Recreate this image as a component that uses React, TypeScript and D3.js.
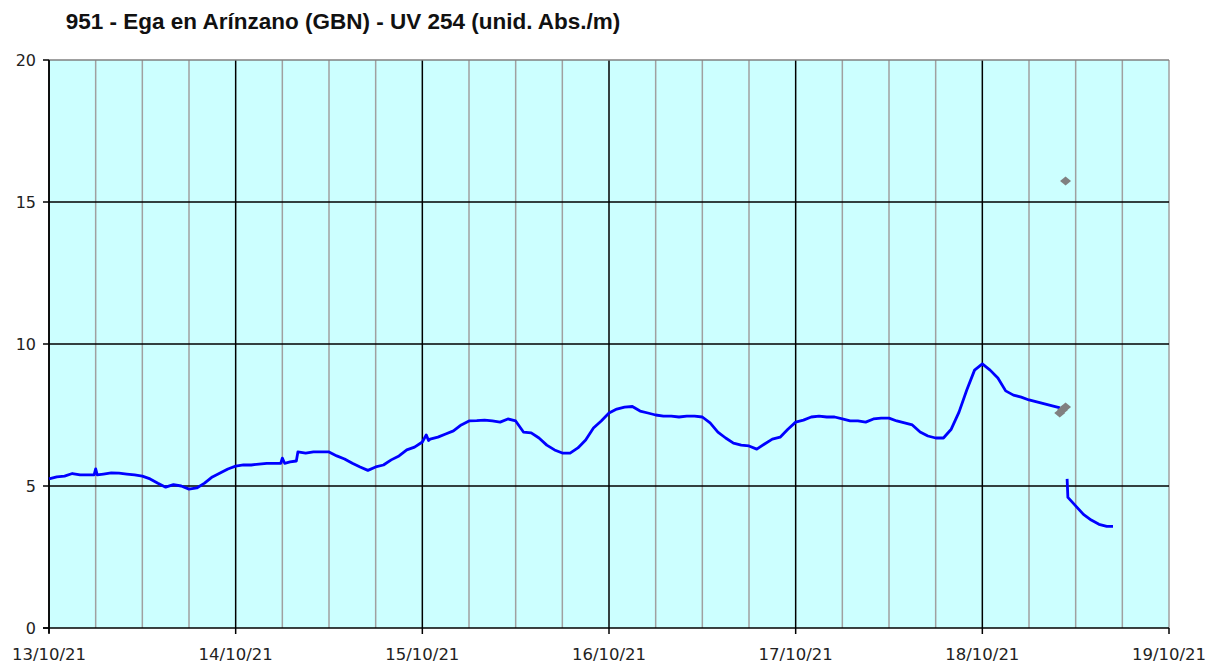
import { scaleLinear, line, range } from "d3";

// hours since 13/10/21 00:00 -> UV 254 (unid. Abs./m)
const readingsBeforeGap: [number, number][] = [
  [0, 5.25], [1, 5.32], [2, 5.35], [3, 5.44], [4, 5.39], [5, 5.39], [5.8, 5.39], [6, 5.6], [6.2, 5.39],
  [7, 5.42], [8, 5.46], [9, 5.45], [10, 5.42], [11, 5.39], [12, 5.35], [13, 5.25], [14, 5.1],
  [15, 4.96], [16, 5.05], [17, 5.0], [18, 4.89], [19, 4.93], [20, 5.1], [21, 5.32], [22, 5.46],
  [23, 5.6], [24, 5.7], [25, 5.74], [26, 5.74], [27, 5.77], [28, 5.8], [29, 5.8], [29.8, 5.8], [30, 5.98],
  [30.3, 5.8], [31, 5.85], [31.8, 5.88], [32, 6.2], [33, 6.16], [34, 6.2], [35, 6.2], [36, 6.2], [37, 6.06],
  [38, 5.95], [39, 5.8], [40, 5.67], [41, 5.55], [42, 5.67], [43, 5.74], [44, 5.92], [45, 6.06],
  [46, 6.27], [47, 6.37], [48, 6.55], [48.5, 6.8], [48.8, 6.6], [49, 6.65], [50, 6.72], [51, 6.83], [52, 6.94],
  [53, 7.15], [54, 7.29], [55, 7.3], [56, 7.32], [57, 7.29], [58, 7.25], [59, 7.36], [60, 7.29],
  [61, 6.9], [62, 6.87], [63, 6.69], [64, 6.44], [65, 6.27], [66, 6.16], [67, 6.16], [68, 6.34],
  [69, 6.62], [70, 7.04], [71, 7.29], [72, 7.57], [73, 7.71], [74, 7.78], [75, 7.8], [76, 7.64],
  [77, 7.57], [78, 7.5], [79, 7.46], [80, 7.46], [81, 7.43], [82, 7.46], [83, 7.46], [84, 7.43],
  [85, 7.22], [86, 6.9], [87, 6.69], [88, 6.51], [89, 6.44], [90, 6.41], [91, 6.3], [92, 6.48],
  [93, 6.65], [94, 6.72], [95, 7.0], [96, 7.25], [97, 7.32], [98, 7.43], [99, 7.46], [100, 7.43],
  [101, 7.43], [102, 7.36], [103, 7.29], [104, 7.29], [105, 7.25], [106, 7.36], [107, 7.39],
  [108, 7.39], [109, 7.29], [110, 7.22], [111, 7.15], [112, 6.9], [113, 6.76], [114, 6.69],
  [115, 6.69], [116, 7.0], [117, 7.6], [118, 8.38], [119, 9.08], [120, 9.3], [121, 9.08],
  [122, 8.8], [123, 8.35], [124, 8.2], [125, 8.13], [126, 8.03], [127, 7.96], [128, 7.89],
  [129, 7.82], [130, 7.75],
];

const readingsAfterGap: [number, number][] = [
  [130.9, 5.25], [131.0, 4.6], [132, 4.3], [133, 4.0], [134, 3.8], [135, 3.65], [136, 3.58], [136.8, 3.58],
];

const outlierHours = [129.95, 130.3, 130.7, 130.7];
const outlierValues = [7.57, 7.68, 7.78, 15.74];

const dayLabels = ["13/10/21", "14/10/21", "15/10/21", "16/10/21", "17/10/21", "18/10/21", "19/10/21"];
const yTickValues = [0, 5, 10, 15, 20];

const TITLE = "951 - Ega en Arínzano (GBN) - UV 254 (unid. Abs./m)";
const WIDTH = 1224;
const HEIGHT = 669;
const PLOT = { left: 49, right: 1169, top: 60, bottom: 628 };
const TICK_FONT = "'DejaVu Sans', Verdana, sans-serif";

export default function App() {
  const x = scaleLinear().domain([0, 144]).range([PLOT.left, PLOT.right]);
  const y = scaleLinear().domain([0, 20]).range([PLOT.bottom, PLOT.top]);

  const path = line<[number, number]>()
    .x((d) => x(d[0]))
    .y((d) => y(d[1]));

  const sixHours = range(0, 145, 6);

  return (
    <svg
      width={WIDTH}
      height={HEIGHT}
      style={{ position: "absolute", left: 0, top: 0, background: "#fff" }}
    >
      <text
        x={343}
        y={29}
        textAnchor="middle"
        fontFamily="'Liberation Sans', Arial, sans-serif"
        fontWeight="bold"
        fontSize={22.5}
        fill="#111"
      >
        {TITLE}
      </text>

      <rect
        x={PLOT.left}
        y={PLOT.top}
        width={PLOT.right - PLOT.left}
        height={PLOT.bottom - PLOT.top}
        fill="#ccffff"
      />

      {/* gridlines every 6 hours, black at midnight */}
      {sixHours.map((h) => (
        <line
          key={h}
          x1={x(h)}
          x2={x(h)}
          y1={PLOT.top}
          y2={PLOT.bottom}
          stroke={h % 24 === 0 && h < 144 ? "#000" : "#a0a0a0"}
          strokeWidth={1.5}
        />
      ))}
      {yTickValues.slice(1).map((t) => (
        <line
          key={t}
          x1={PLOT.left}
          x2={PLOT.right}
          y1={y(t)}
          y2={y(t)}
          stroke={t === 20 ? "#808080" : "#000"}
          strokeWidth={1.5}
        />
      ))}

      {/* axes */}
      <line x1={PLOT.left} x2={PLOT.left} y1={PLOT.top} y2={PLOT.bottom + 5} stroke="#000" strokeWidth={1.5} />
      <line x1={PLOT.left - 6} x2={PLOT.right} y1={PLOT.bottom} y2={PLOT.bottom} stroke="#000" strokeWidth={1.5} />

      {yTickValues.map((t) => (
        <g key={t}>
          <line x1={PLOT.left - 6} x2={PLOT.left} y1={y(t)} y2={y(t)} stroke="#000" strokeWidth={1.5} />
          <text
            x={36}
            y={y(t)}
            dy="0.36em"
            textAnchor="end"
            fontFamily={TICK_FONT}
            fontSize={16}
            fill="#222"
          >
            {t}
          </text>
        </g>
      ))}

      {dayLabels.map((label, i) => (
        <g key={label}>
          <line x1={x(i * 24)} x2={x(i * 24)} y1={PLOT.bottom} y2={PLOT.bottom + 6} stroke="#000" strokeWidth={1.5} />
          <text
            x={x(i * 24)}
            y={660}
            textAnchor="middle"
            fontFamily={TICK_FONT}
            fontSize={16.5}
            fill="#222"
          >
            {label}
          </text>
        </g>
      ))}

      <path d={path(readingsBeforeGap) ?? ""} fill="none" stroke="#0000ff" strokeWidth={2.8} strokeLinejoin="round" />
      <path d={path(readingsAfterGap) ?? ""} fill="none" stroke="#0000ff" strokeWidth={2.8} strokeLinejoin="round" />

      {outlierHours.map((h, i) => {
        const cx = x(h);
        const cy = y(outlierValues[i]);
        return (
          <polygon
            key={i}
            points={`${cx - 5.5},${cy} ${cx},${cy - 4.5} ${cx + 5.5},${cy} ${cx},${cy + 4.5}`}
            fill="#808080"
          />
        );
      })}
    </svg>
  );
}
